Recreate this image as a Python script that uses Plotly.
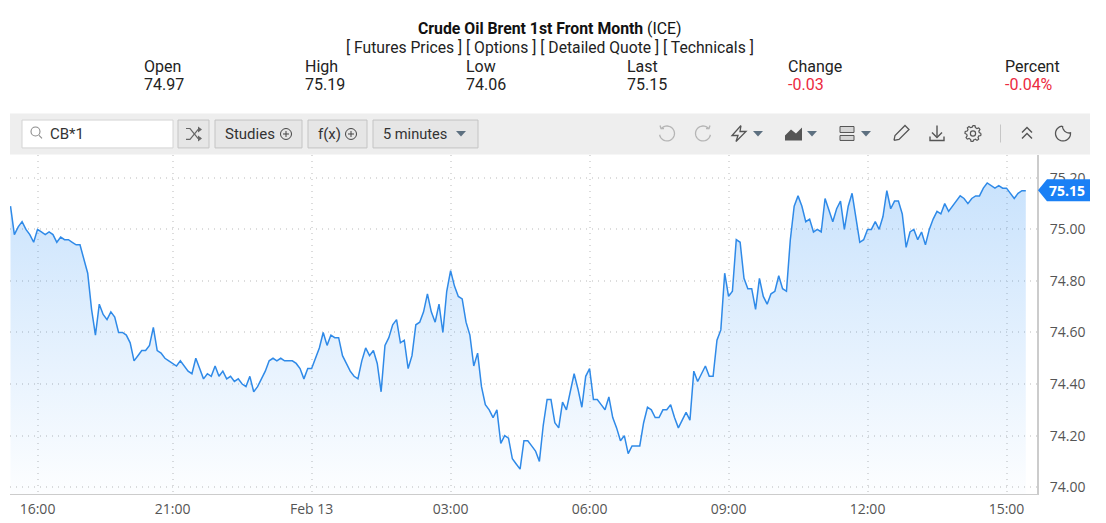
import math
import plotly.graph_objects as go

W, H = 1106, 523

prices = [
    75.09, 74.98, 75.01, 75.03, 75.00, 74.98, 74.95, 75.00, 74.99, 74.98,
    74.99, 74.98, 74.95, 74.97, 74.96, 74.96, 74.95, 74.94, 74.94, 74.88,
    74.83, 74.69, 74.59, 74.71, 74.67, 74.65, 74.68, 74.66, 74.60, 74.60,
    74.59, 74.56, 74.49, 74.51, 74.53, 74.53, 74.55, 74.62, 74.53, 74.52,
    74.50, 74.49, 74.48, 74.47, 74.49, 74.47, 74.45, 74.44, 74.50, 74.46,
    74.42, 74.44, 74.43, 74.47, 74.43, 74.45, 74.42, 74.43, 74.41, 74.42,
    74.40, 74.39, 74.43, 74.37, 74.39, 74.42, 74.45, 74.49, 74.50, 74.49,
    74.50, 74.49, 74.49, 74.49, 74.48, 74.46, 74.42, 74.46, 74.46, 74.50,
    74.54, 74.60, 74.55, 74.59, 74.58, 74.58, 74.51, 74.48, 74.45, 74.43,
    74.42, 74.49, 74.54, 74.51, 74.53, 74.48, 74.37, 74.55, 74.58, 74.63,
    74.65, 74.56, 74.57, 74.46, 74.51, 74.63, 74.64, 74.68, 74.75, 74.68,
    74.64, 74.71, 74.60, 74.76, 74.84, 74.78, 74.74, 74.73, 74.64, 74.59,
    74.47, 74.52, 74.39, 74.32, 74.30, 74.27, 74.30, 74.17, 74.20, 74.19,
    74.11, 74.09, 74.07, 74.18, 74.18, 74.16, 74.14, 74.10, 74.24, 74.34,
    74.34, 74.25, 74.23, 74.33, 74.30, 74.37, 74.44, 74.38, 74.31, 74.43,
    74.46, 74.34, 74.34, 74.32, 74.30, 74.35, 74.27, 74.23, 74.18, 74.20,
    74.13, 74.16, 74.16, 74.16, 74.25, 74.31, 74.30, 74.27, 74.27, 74.30,
    74.30, 74.32, 74.27, 74.23, 74.26, 74.29, 74.26, 74.45, 74.41, 74.44,
    74.47, 74.43, 74.43, 74.57, 74.61, 74.83, 74.74, 74.76, 74.96, 74.95,
    74.81, 74.77, 74.77, 74.69, 74.81, 74.74, 74.71, 74.75, 74.76, 74.82,
    74.77, 74.76, 74.96, 75.09, 75.13, 75.09, 75.03, 75.04, 74.99, 75.00,
    74.99, 75.12, 75.07, 75.03, 75.08, 75.11, 75.00, 75.09, 75.14, 75.04,
    74.95, 74.96, 75.00, 75.00, 75.03, 75.00, 75.05, 75.15, 75.08, 75.11,
    75.11, 75.06, 74.93, 74.99, 75.00, 74.96, 74.99, 74.94, 75.00, 75.04,
    75.07, 75.06, 75.10, 75.07, 75.09, 75.11, 75.13, 75.12, 75.10, 75.12,
    75.13, 75.13, 75.16, 75.18, 75.17, 75.16, 75.17, 75.16, 75.16, 75.14,
    75.12, 75.14, 75.15, 75.15,
]
x_ticks = [7, 42, 78, 114, 150, 186, 222, 258]
x_labels = ["16:00", "21:00", "Feb 13", "03:00", "06:00", "09:00", "12:00", "15:00"]
y_ticks = [74.0, 74.2, 74.4, 74.6, 74.8, 75.0, 75.2]
y_labels = ["74.00", "74.20", "74.40", "74.60", "74.80", "75.00", "75.20"]

quote_heads = ["Open", "High", "Low", "Last", "Change", "Percent"]
quote_vals = ["74.97", "75.19", "74.06", "75.15", "-0.03", "-0.04%"]
quote_x = [142.5, 303.5, 464.5, 625.5, 786.5, 1004]

shapes = []
notes = []


def px(x, y):
    return x / W, 1 - y / H


def rect(x0, y0, x1, y1, fill, line=None):
    a, b = px(x0, y0)
    c, d = px(x1, y1)
    shapes.append(dict(type="rect", xref="paper", yref="paper", x0=a, y0=b, x1=c, y1=d,
                       fillcolor=fill, line=dict(color=line or fill, width=1 if line else 0)))


def circle(cx, cy, r, color, width=1.2):
    a, b = px(cx - r, cy - r)
    c, d = px(cx + r, cy + r)
    shapes.append(dict(type="circle", xref="paper", yref="paper", x0=a, y0=b, x1=c, y1=d,
                       line=dict(color=color, width=width)))


def poly(pts, color, width=1.4, fill=None):
    path = ""
    for i, (x, y) in enumerate(pts):
        a, b = px(x, y)
        path += ("M" if i == 0 else "L") + f"{a:.5f},{b:.5f} "
    if fill:
        path += "Z"
    shapes.append(dict(type="path", xref="paper", yref="paper", path=path,
                       fillcolor=fill or "rgba(0,0,0,0)",
                       line=dict(color=color, width=width if width else 0)))


def arc(cx, cy, r, a0, a1, n=24):
    return [(cx + r * math.cos(math.radians(a0 + (a1 - a0) * k / n)),
             cy + r * math.sin(math.radians(a0 + (a1 - a0) * k / n))) for k in range(n + 1)]


def text(x, y, s, size=16, color="#222222", anchor="left", font="Roboto"):
    a, b = px(x, y)
    notes.append(dict(x=a, y=b, xref="paper", yref="paper", text=s, showarrow=False,
                      xanchor=anchor, yanchor="middle", borderpad=0,
                      font=dict(family=font, size=size, color=color)))


def caret(cx, cy):
    poly([(cx - 5, cy - 2.5), (cx + 5, cy - 2.5), (cx, cy + 3)], "#5d7080", 0, fill="#5d7080")


# page header
text(549.5, 28.5, "<b>Crude Oil Brent 1st Front Month</b> (ICE)", 15.8, "#111111", "center")
text(549.5, 47.5, "[ Futures Prices ] [ Options ] [ Detailed Quote ] [ Technicals ]", 15.7, "#222222", "center")
for head, val, qx in zip(quote_heads, quote_vals, quote_x):
    text(qx, 66.5, head, 16)
    text(qx, 84.5, val, 16, "#ec2a40" if val.startswith("-") else "#222222")

# toolbar
rect(10, 114, 1090, 155, "#eeeeee")
rect(22, 120.5, 173, 148.5, "#ffffff", "#d4d4d4")
circle(35.5, 132, 4.5, "#8a8a8a", 1.1)
poly([(39, 136), (42, 139)], "#8a8a8a", 1.1)
text(49, 134.5, "CB*1", 15, "#333333")
for bx0, bx1 in [(178, 209), (215, 302), (308, 367), (373, 478)]:
    rect(bx0, 120.5, bx1, 148.5, "#e6e6e6", "#c4c4c4")
# shuffle icon
poly([(186, 129), (190, 129), (198, 139), (201, 139)], "#666666", 1.2)
poly([(186, 140), (190, 140), (198, 130), (201, 130)], "#666666", 1.2)
poly([(198, 127), (202, 130), (198, 133)], "#666666", 0, fill="#666666")
poly([(198, 136), (202, 139), (198, 142)], "#666666", 0, fill="#666666")
text(224, 134.5, "Studies", 15, "#333333")
circle(286, 134.5, 5.5, "#444444", 1)
poly([(283, 134.5), (289, 134.5)], "#444444", 1)
poly([(286, 131.5), (286, 137.5)], "#444444", 1)
text(316.5, 134.5, "f(x)", 15, "#333333")
circle(351, 134.5, 5.5, "#444444", 1)
poly([(348, 134.5), (354, 134.5)], "#444444", 1)
poly([(351, 131.5), (351, 137.5)], "#444444", 1)
text(381.5, 134.5, "5 minutes", 14.6, "#333333")
caret(461, 134)

# right hand toolbar icons
poly(arc(667, 134, 7.5, -140, 170), "#b5b5b5", 1.3)
poly([(660, 126), (661, 129), (664, 129)], "#b5b5b5", 1.3)
poly(arc(703, 134, 7.5, -40, -350), "#b5b5b5", 1.3)
poly([(710, 126), (709, 129), (706, 129)], "#b5b5b5", 1.3)
poly([(741, 126), (732, 136), (738, 136), (736, 142), (746, 132), (740, 132), (741, 126)], "#555555", 1.3)
caret(758, 134)
poly([(785, 141), (785, 136), (791, 130), (796, 134), (802, 128), (802, 141)], "#555555", 0, fill="#555555")
caret(812, 134)
rect(840, 127, 854, 133, "#d6d6d6", "#555555")
rect(840, 136, 854, 141, "#d6d6d6", "#555555")
caret(866, 134)
poly([(894, 141), (895, 136), (905, 126), (909, 130), (899, 140), (894, 141)], "#555555", 1.3)
poly([(937, 126), (937, 137)], "#555555", 1.4)
poly([(932, 133), (937, 138), (942, 133)], "#555555", 1.4)
poly([(930, 137), (930, 141), (944, 141), (944, 137)], "#555555", 1.4)
gear = []
for k in range(48):
    r = 8 if (k // 3) % 2 == 0 else 6.3
    gear.append((973 + r * math.cos(math.radians(k * 7.5)), 134 + r * math.sin(math.radians(k * 7.5))))
gear.append(gear[0])
poly(gear, "#555555", 1.2)
circle(973, 134, 2.6, "#555555", 1.2)
rect(1000, 125, 1000.8, 143, "#bbbbbb")
poly([(1022, 133), (1027, 128), (1032, 133)], "#555555", 1.4)
poly([(1022, 139), (1027, 134), (1032, 139)], "#555555", 1.4)
poly(arc(1063, 134, 7.5, 265, -5) + arc(1069.5, 126.5, 7, 85, 180, 12), "#555555", 1.3)

# last price tag
poly([(1038, 191), (1047, 180), (1090, 180), (1090, 202), (1047, 202)], "#1a80f5", 0, fill="#1a80f5")
text(1066.5, 191, "<b>75.15</b>", 14, "#ffffff", "center", "Open Sans")

fig = go.Figure()
fig.add_trace(go.Scatter(
    x=list(range(len(prices))),
    y=prices,
    mode="lines",
    line=dict(color="#2f8ae8", width=1.5),
    fill="tozeroy",
    fillgradient=dict(type="vertical", start=73.973, stop=75.19,
                      colorscale=[[0, "rgba(30,136,245,0.01)"], [1, "rgba(30,136,245,0.24)"]]),
    hoverinfo="skip",
    showlegend=False,
))

fig.update_layout(
    width=W,
    height=H,
    margin=dict(l=0, r=0, t=0, b=0),
    paper_bgcolor="#ffffff",
    plot_bgcolor="#ffffff",
    shapes=shapes,
    annotations=notes,
    xaxis=dict(
        domain=[10 / W, 1037 / W],
        range=[-0.13, 265.9],
        tickmode="array",
        tickvals=x_ticks,
        ticktext=x_labels,
        ticks="",
        ticklabelstandoff=2,
        tickfont=dict(family="Open Sans", size=14, color="#555555"),
        showgrid=True,
        gridcolor="#dcdcdc",
        griddash="1px,5px",
        gridwidth=1.5,
        showline=True,
        linecolor="#cccccc",
        linewidth=1,
        zeroline=False,
    ),
    yaxis=dict(
        domain=[1 - 496 / H, 1 - 155.5 / H],
        range=[73.973, 75.289],
        side="right",
        tickmode="array",
        tickvals=y_ticks,
        ticktext=y_labels,
        ticks="",
        ticklabelstandoff=8,
        tickfont=dict(family="Open Sans", size=14, color="#555555"),
        showgrid=True,
        gridcolor="#dcdcdc",
        griddash="1px,5px",
        gridwidth=1.5,
        showline=True,
        linecolor="#cccccc",
        linewidth=2,
        zeroline=False,
    ),
)

fig.write_html("out.html", config=dict(displayModeBar=False),
               post_script="document.body.style.margin='0';")
